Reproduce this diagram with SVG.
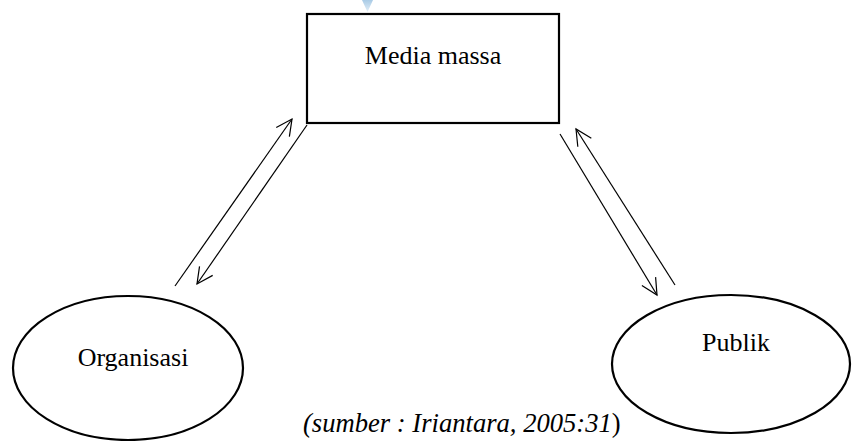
<svg xmlns="http://www.w3.org/2000/svg" width="852" height="441" viewBox="0 0 852 441">
<style>
.shape{fill:#fff;stroke:#000;stroke-width:2.2}
.lbl{font-family:"Liberation Serif","Times New Roman",serif;font-size:26px;fill:#000;text-anchor:middle}
.conn{stroke:#000;stroke-width:1.2;fill:none}
</style>
<defs>
<marker id="v" viewBox="0 0 20 20" refX="18" refY="10" markerWidth="20" markerHeight="20" markerUnits="userSpaceOnUse" orient="auto">
<path d="M2,2 L18,10 L2,18" fill="none" stroke="#000" stroke-width="1.2"/>
</marker>
<linearGradient id="bl" x1="0" y1="0" x2="0" y2="1"><stop offset="0" stop-color="#a9cbe6"/><stop offset="1" stop-color="#e4eff8"/></linearGradient>
</defs>
<polygon points="362,0 373,0 367.5,12" fill="url(#bl)"/>
<g id="media">
<rect class="shape" x="307" y="14" width="252" height="109"/>
<text class="lbl" x="433" y="64">Media massa</text>
</g>
<g id="organisasi">
<ellipse class="shape" cx="128" cy="368" rx="115" ry="72"/>
<text class="lbl" x="133" y="366">Organisasi</text>
</g>
<g id="publik">
<ellipse class="shape" cx="731" cy="364" rx="119" ry="69"/>
<text class="lbl" x="736" y="351">Publik</text>
</g>
<g id="connectors">
<line class="conn" x1="175" y1="286" x2="292" y2="119" marker-end="url(#v)"/>
<line class="conn" x1="307" y1="125" x2="197" y2="284" marker-end="url(#v)"/>
<line class="conn" x1="560" y1="134" x2="657" y2="295" marker-end="url(#v)"/>
<line class="conn" x1="675" y1="285" x2="576" y2="129" marker-end="url(#v)"/>
</g>
<text x="303" y="432" style="font-family:'Liberation Serif','Times New Roman',serif;font-size:26.6px;fill:#000;font-style:italic">(sumber : Iriantara, 2005:31<tspan font-style="normal">)</tspan></text>
</svg>
